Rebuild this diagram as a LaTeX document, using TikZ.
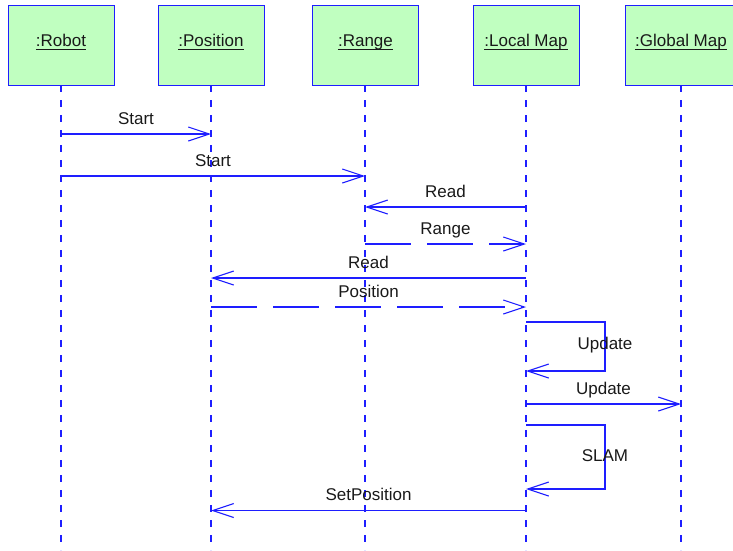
\documentclass[tikz,border=0pt]{standalone}
\usepackage{fontspec}
\setmainfont{Liberation Sans}
\usetikzlibrary{arrows.meta}
\definecolor{umlblue}{RGB}{30,30,255}
\definecolor{objfill}{RGB}{192,255,192}
\definecolor{txt}{RGB}{25,25,25}
\tikzset{
  objbox/.style={draw=umlblue, fill=objfill, line width=1pt, minimum width=106pt,
    minimum height=80pt, inner sep=0pt, anchor=north},
  objname/.style={text=txt, font=\fontsize{17}{20}\selectfont, anchor=base, inner sep=0pt},
  uline/.style={draw=txt, line width=1.4pt},
  lifeline/.style={draw=umlblue, line width=1.1pt, dash pattern=on 7pt off 8pt},
  msg/.style={draw=umlblue, line width=1.1pt, -{Straight Barb[length=21pt,width=14pt]}},
  reply/.style={msg, dash pattern=on 46pt off 16pt},
  msglabel/.style={text=txt, font=\fontsize{17}{20}\selectfont, anchor=base, inner sep=0pt},
  onmsg/.style={msglabel, midway, yshift=9.8pt},
}
\begin{document}
\begin{tikzpicture}[x=1pt, y=-1pt]
  \useasboundingbox (0,0) rectangle (733,550);

  % object boxes
  \node[objbox] (robotbox) at (61,5) {};
  \node[objbox] (posbox)   at (211,5) {};
  \node[objbox] (rangebox) at (365.5,5) {};
  \node[objbox] (lmbox)    at (526,5) {};
  \node[objbox, minimum width=112pt] (gmbox) at (681,5) {};

  % underlined object names
  \node[objname] (robotname) at (61,46.5) {:Robot};
  \node[objname] (posname)   at (211,46.5) {:Position};
  \node[objname] (rangename) at (365.5,46.5) {:Range};
  \node[objname] (lmname)    at (526,46.5) {:Local Map};
  \node[objname] (gmname)    at (681,46.5) {:Global Map};
  \foreach \n in {robotname,posname,rangename,lmname,gmname}
    \draw[uline] ([yshift=-2.8pt]\n.base west) -- ([yshift=-2.8pt]\n.base east);

  % lifelines
  \coordinate (robot) at (61,85);
  \coordinate (pos)   at (211,85);
  \coordinate (range) at (365,85);
  \coordinate (lm)    at (526,85);
  \coordinate (gm)    at (681,85);
  \foreach \c in {robot,pos,range,lm,gm}
    \draw[lifeline] (\c) -- (\c |- 0,550);

  % messages
  \draw[msg] (robot |- 0,134) -- (pos |- 0,134) node[onmsg] {Start};
  \draw[msg] (robot |- 0,176) -- (range |- 0,176) node[onmsg] {Start};
  \draw[msg] (lm |- 0,207) -- (range |- 0,207) node[onmsg] {Read};
  \draw[reply] (range |- 0,244) -- (lm |- 0,244) node[onmsg] {Range};
  \draw[msg] (lm |- 0,278) -- (pos |- 0,278) node[onmsg] {Read};
  \draw[reply] (pos |- 0,307) -- (lm |- 0,307) node[onmsg] {Position};

  % self message: Update
  \coordinate (updcorner) at (605,371);
  \draw[msg] (lm |- 0,322) -| (updcorner) -- (lm |- updcorner);
  \node[msglabel] (updlabel) at (605,349) {Update};

  \draw[msg] (lm |- 0,404) -- (gm |- 0,404) node[onmsg] {Update};

  % self message: SLAM
  \coordinate (slamcorner) at (605,489);
  \draw[msg] (lm |- 0,425) -| (slamcorner) -- (lm |- slamcorner);
  \node[msglabel] (slamlabel) at (605,461.7) {SLAM};

  \draw[msg] (lm |- 0,510.5) -- (pos |- 0,510.5) node[onmsg] {SetPosition};
\end{tikzpicture}
\end{document}
